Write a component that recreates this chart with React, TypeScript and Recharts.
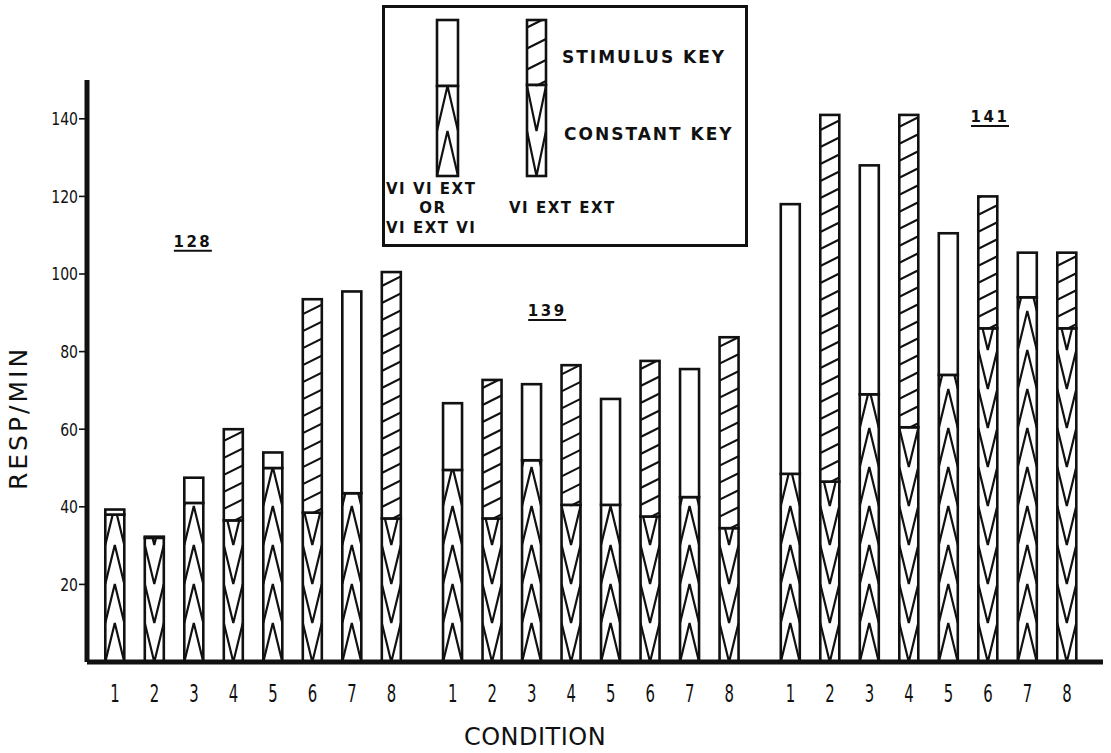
import React from 'react';
import { BarChart, Bar, XAxis, YAxis, Legend, ReferenceDot, Label } from 'recharts';

// subjects (one group of bars each) and experimental conditions
const subjects = ['128', '139', '141'];
const conditions = ['1', '2', '3', '4', '5', '6', '7', '8'];
// schedule of each condition: decides how the stimulus-key part is drawn
const schedules = ['VI VI EXT', 'VI EXT EXT', 'VI VI EXT', 'VI EXT EXT', 'VI EXT VI', 'VI EXT EXT', 'VI EXT VI', 'VI EXT EXT'];

// constant key responses/min (lower part of each bar)
const constant128 = [38, 32, 41, 36.5, 50, 38.5, 43.5, 37];
const constant139 = [49.5, 37, 52, 40.5, 40.5, 37.5, 42.5, 34.5];
const constant141 = [48.5, 46.5, 69, 60.5, 74, 86, 94, 86];

// stimulus key responses/min (upper part of each bar)
const stimulus128 = [1.3, 0.3, 6.5, 23.5, 4, 55, 52, 63.5];
const stimulus139 = [17.2, 35.7, 19.6, 36, 27.3, 40.1, 33, 49.2];
const stimulus141 = [69.5, 94.5, 59, 80.5, 36.5, 34, 11.5, 19.5];

const yTicks = [20, 40, 60, 80, 100, 120, 140];

// layout: where each group starts on the x scale, and where its tag sits
const GROUP_START = [0, 8.55, 17.1];
const TAG_X = [1.97, 2.39, 5.05];
const TAG_Y = [107, 89.2, 139.2];

const FONT = "'DejaVu Sans', Verdana, sans-serif";
const INK = '#111';

const constants = [constant128, constant139, constant141];
const stimuli = [stimulus128, stimulus139, stimulus141];

const rows = subjects.flatMap((s, g) =>
    conditions.map((c, i) => ({
        pos: GROUP_START[g] + i,
        subject: s,
        condition: c,
        constant: constants[g][i],
        stimulus: stimuli[g][i],
        hatched: schedules[i] === 'VI EXT EXT',
    }))
);
const condByPos = new Map(rows.map(r => [r.pos, r.condition]));

function chevronPath(x: number, y: number, w: number, h: number, up: boolean, period: number) {
    const yb = y + h;
    const xc = x + w / 2;
    const parts: string[] = [];
    for (let b = yb; b > y - period; b -= period) {
        if (up) parts.push(`M${x},${b} L${xc},${b - period} L${x + w},${b}`);
        else parts.push(`M${x},${b - period} L${xc},${b} L${x + w},${b - period}`);
    }
    return parts.join(' ');
}

function hatchPath(x: number, y: number, w: number, h: number, step: number) {
    const rise = w * 0.5;
    const parts: string[] = [];
    for (let b = y + h + rise - 4; b > y; b -= step) {
        parts.push(`M${x},${b} L${x + w},${b - rise}`);
    }
    return parts.join(' ');
}

function ConstantBlock({ x, y, width, height, up, period = 39 }: any) {
    if (!height || height <= 0) return null;
    const id = `cv-${Math.round(x * 10)}-${Math.round(y * 10)}`;
    return (
        <g>
            <defs>
                <clipPath id={id}>
                    <rect x={x} y={y} width={width} height={height} />
                </clipPath>
            </defs>
            <rect x={x} y={y} width={width} height={height} fill="#fff" />
            <path d={chevronPath(x, y, width, height, up, period)} clipPath={`url(#${id})`}
                stroke={INK} strokeWidth={2.2} fill="none" />
            <rect x={x} y={y} width={width} height={height} fill="none" stroke={INK} strokeWidth={2.6} />
        </g>
    );
}

function StimulusBlock({ x, y, width, height, hatched, step = 17 }: any) {
    const h = Math.max(height || 0, 0);
    const id = `st-${Math.round(x * 10)}-${Math.round(y * 10)}`;
    return (
        <g>
            <defs>
                <clipPath id={id}>
                    <rect x={x} y={y} width={width} height={h} />
                </clipPath>
            </defs>
            <rect x={x} y={y} width={width} height={h} fill="#fff" />
            {hatched && h > 2 && (
                <path d={hatchPath(x, y, width, h, step)} clipPath={`url(#${id})`}
                    stroke={INK} strokeWidth={2.2} fill="none" />
            )}
            <rect x={x} y={y} width={width} height={h} fill="none" stroke={INK} strokeWidth={2.6} />
        </g>
    );
}

const ConstantShape = (props: any) => (
    <ConstantBlock {...props} up={!props.payload.hatched} />
);

const StimulusShape = (props: any) => (
    <StimulusBlock {...props} hatched={props.payload.hatched} />
);

const YTick = ({ x, y, payload }: any) => (
    <g transform={`translate(${x},${y})`}>
        <text transform="scale(0.78,1)" textAnchor="end" dy="0.36em" fontSize={18}
            fontFamily={FONT} fill={INK}>{payload.value}</text>
    </g>
);

const XTick = ({ x, y, payload }: any) => (
    <g transform={`translate(${x},${y})`}>
        <text transform="scale(0.62,1)" textAnchor="middle" dy={40} fontSize={24}
            fontFamily={FONT} fill={INK}>{condByPos.get(payload.value)}</text>
    </g>
);

const GroupTag = ({ cx, cy, text }: any) => (
    <g>
        <text x={cx} y={cy} textAnchor="middle" fontSize={15} fontWeight={700} letterSpacing={2.5}
            fontFamily={FONT} fill={INK}>{text}</text>
        <line x1={cx - 19} x2={cx + 19} y1={cy + 4} y2={cy + 4} stroke={INK} strokeWidth={2} />
    </g>
);

function KeyBox() {
    const txt = { fontFamily: FONT, fontWeight: 700, fill: INK } as const;
    return (
        <svg width={366} height={242} style={{ display: 'block' }}>
            <rect x={1.5} y={1.5} width={363} height={239} fill="#fff" stroke={INK} strokeWidth={3} />
            <StimulusBlock x={55} y={15} width={21} height={66} hatched={false} />
            <ConstantBlock x={55} y={81} width={21} height={90} up period={45} />
            <StimulusBlock x={145} y={15} width={19} height={65} hatched step={21} />
            <ConstantBlock x={145} y={80} width={19} height={91} up={false} period={45} />
            <text x={180} y={58} fontSize={17} letterSpacing={2} {...txt}>STIMULUS  KEY</text>
            <text x={182} y={135} fontSize={17} letterSpacing={2} {...txt}>CONSTANT KEY</text>
            <text x={4} y={189} fontSize={15} letterSpacing={1.5} {...txt}>VI VI EXT</text>
            <text x={51} y={208} fontSize={15} letterSpacing={1.5} textAnchor="middle" {...txt}>OR</text>
            <text x={4} y={228} fontSize={15} letterSpacing={1.5} {...txt}>VI EXT VI</text>
            <text x={127} y={208} fontSize={15} letterSpacing={1.5} {...txt}>VI EXT EXT</text>
        </svg>
    );
}

export default function App() {
    return (
        <div style={{ position: 'absolute', left: 0, top: 0, width: 1111, height: 753, background: '#fff' }}>
            <BarChart
                width={1111}
                height={753}
                data={rows}
                margin={{ top: 80, right: 8, left: 27, bottom: 61 }}
                barSize={19}
            >
                <XAxis
                    dataKey="pos"
                    type="number"
                    domain={[-0.71, 25.01]}
                    allowDataOverflow
                    ticks={rows.map(r => r.pos)}
                    interval={0}
                    height={30}
                    tickSize={0}
                    tickMargin={0}
                    tickLine={false}
                    tick={<XTick />}
                    axisLine={{ stroke: INK, strokeWidth: 5 }}
                >
                    <Label
                        content={({ viewBox }: any) => (
                            <text x={viewBox.x + viewBox.width / 2 - 60} y={745} textAnchor="middle"
                                fontSize={24} letterSpacing={0.5} fontFamily={FONT} fill={INK}>CONDITION</text>
                        )}
                    />
                </XAxis>
                <YAxis
                    type="number"
                    domain={[0, 150]}
                    ticks={yTicks}
                    width={60}
                    tickSize={8}
                    tickMargin={1}
                    tick={<YTick />}
                    tickLine={{ stroke: INK, strokeWidth: 1.6 }}
                    axisLine={{ stroke: INK, strokeWidth: 5 }}
                >
                    <Label
                        content={({ viewBox }: any) => (
                            <text transform={`translate(${viewBox.x},${viewBox.y + viewBox.height / 2 + 47}) rotate(-90)`}
                                textAnchor="middle" fontSize={25} letterSpacing={3}
                                fontFamily={FONT} fill={INK}>RESP/MIN</text>
                        )}
                    />
                </YAxis>
                <Legend
                    layout="vertical"
                    align="center"
                    verticalAlign="middle"
                    width={366}
                    height={242}
                    wrapperStyle={{ left: 382, top: 5, width: 366, height: 242 }}
                    content={() => <KeyBox />}
                />
                <Bar dataKey="constant" stackId="a" shape={ConstantShape} isAnimationActive={false} />
                <Bar dataKey="stimulus" stackId="a" shape={StimulusShape} isAnimationActive={false} />
                {subjects.map((s, g) => (
                    <ReferenceDot
                        key={s}
                        x={GROUP_START[g] + TAG_X[g]}
                        y={TAG_Y[g]}
                        r={0}
                        ifOverflow="visible"
                        shape={(p: any) => <GroupTag cx={p.cx} cy={p.cy} text={s} />}
                    />
                ))}
            </BarChart>
        </div>
    );
}
